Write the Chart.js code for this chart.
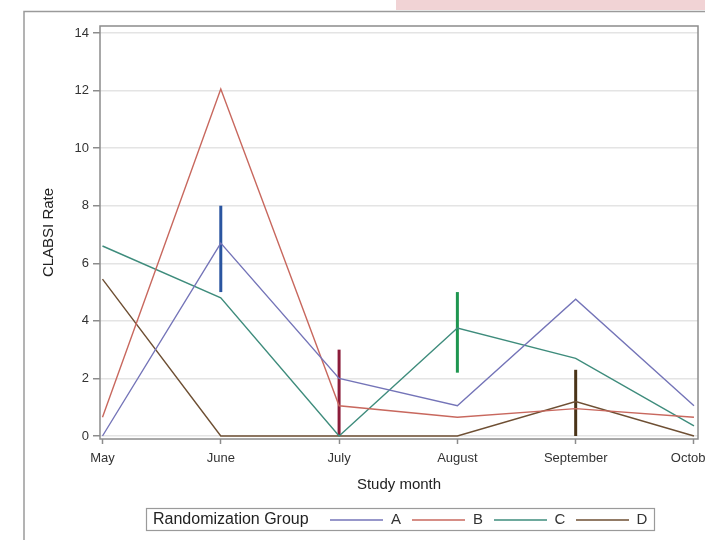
<!DOCTYPE html>
<html>
<head>
<meta charset="utf-8">
<script src="https://cdn.jsdelivr.net/npm/chart.js@4/dist/chart.umd.min.js"></script>
<style>
  html, body { margin: 0; padding: 0; background: #fff; }
  canvas { display: block; }
</style>
</head>
<body>
<canvas id="rateChart" width="705" height="540"></canvas>
<script>
const months = ['May', 'June', 'July', 'August', 'September', 'October'];
const yTicks = [0, 2, 4, 6, 8, 10, 12, 14];

const groupNames = ['A', 'B', 'C', 'D'];
const groupA = [0, 6.7, 2.0, 1.05, 4.75, 1.05];
const groupB = [0.65, 12.05, 1.05, 0.65, 0.95, 0.65];
const groupC = [6.6, 4.8, 0, 3.75, 2.7, 0.35];
const groupD = [5.45, 0, 0, 0, 1.2, 0];
const groupColors = ['#7474b8', '#c8685e', '#3e8c7c', '#6e4f33'];

// vertical range bars per month
const barMonth = [1, 2, 3, 4];
const barLow = [5.0, 0, 2.2, 0];
const barHigh = [8.0, 3.0, 5.0, 2.3];
const barColors = ['#2a55a0', '#8b1c3a', '#1e9650', '#4a3418'];

const toPoints = arr => arr.map((v, i) => ({ x: i, y: v }));

const datasets = [groupA, groupB, groupC, groupD].map((vals, i) => ({
    label: groupNames[i],
    data: toPoints(vals),
    borderColor: groupColors[i],
    borderWidth: 1.4,
    pointRadius: 0,
    tension: 0
}));

barMonth.forEach((m, i) => {
    datasets.push({
        label: 'bar' + i,
        data: [{ x: m, y: barLow[i] }, { x: m, y: barHigh[i] }],
        borderColor: barColors[i],
        borderWidth: 3,
        pointRadius: 0
    });
});

const framePlugin = {
    id: 'frame',
    beforeDraw(chart) {
        const c = chart.ctx;
        c.save();
        c.fillStyle = '#fff';
        c.fillRect(0, 0, chart.width, chart.height);
        c.fillStyle = '#f1d3d5';
        c.fillRect(396, 0, 309, 10);
        c.strokeStyle = '#9a9a9a';
        c.lineWidth = 1.5;
        c.strokeRect(24, 11.5, 720, 600);
        c.restore();
    },
    afterDraw(chart) {
        const c = chart.ctx;
        const a = chart.chartArea;
        c.save();
        c.strokeStyle = '#8c8c8c';
        c.lineWidth = 1.5;
        c.strokeRect(a.left, a.top, a.right - a.left, a.bottom - a.top);

        // legend
        c.strokeStyle = '#9a9a9a';
        c.lineWidth = 1.2;
        c.strokeRect(146.5, 508.5, 508, 22);
        c.fillStyle = '#222';
        c.font = '16px "Liberation Sans", Arial, sans-serif';
        c.textBaseline = 'middle';
        c.textAlign = 'left';
        c.fillText('Randomization Group', 153, 520);
        c.font = '15px "Liberation Sans", Arial, sans-serif';
        c.textAlign = 'center';
        groupNames.forEach((name, i) => {
            const x0 = 330 + 82 * i;
            c.strokeStyle = groupColors[i];
            c.lineWidth = 1.5;
            c.beginPath();
            c.moveTo(x0, 520);
            c.lineTo(x0 + 53, 520);
            c.stroke();
            c.fillStyle = '#333';
            c.fillText(name, x0 + 66, 520);
        });
        c.restore();
    }
};

const ctx = document.getElementById('rateChart').getContext('2d');
const rateChart = new Chart(ctx, {
    type: 'line',
    data: { datasets: datasets },
    plugins: [framePlugin],
    options: {
        responsive: false,
        animation: false,
        layout: {
            padding: { left: 24, top: 26, right: 7, bottom: 41 }
        },
        plugins: {
            legend: { display: false },
            tooltip: { enabled: false }
        },
        scales: {
            x: {
                type: 'linear',
                min: -0.021,
                max: 5.034,
                afterBuildTicks: scale => {
                    scale.ticks = months.map((m, i) => ({ value: i }));
                },
                afterFit: scale => {
                    scale.height = 60;
                    scale.paddingLeft = 0;
                    scale.paddingRight = 0;
                },
                border: { display: false },
                grid: {
                    drawOnChartArea: false,
                    drawTicks: true,
                    tickLength: 5,
                    tickColor: '#8c8c8c',
                    tickWidth: 1.5
                },
                ticks: {
                    autoSkip: false,
                    maxRotation: 0,
                    padding: 7,
                    color: '#333',
                    font: { family: '"Liberation Sans", Arial, sans-serif', size: 13 },
                    callback: v => months[v]
                },
                title: {
                    display: true,
                    text: 'Study month',
                    color: '#222',
                    font: { family: '"Liberation Sans", Arial, sans-serif', size: 15 },
                    padding: { top: 0, bottom: 5 }
                }
            },
            y: {
                type: 'linear',
                min: -0.104,
                max: 14.243,
                afterBuildTicks: scale => {
                    scale.ticks = yTicks.map(v => ({ value: v }));
                },
                afterFit: scale => {
                    scale.width = 76;
                    scale.paddingTop = 0;
                    scale.paddingBottom = 0;
                },
                border: { display: false },
                grid: {
                    color: '#e4e4e4',
                    lineWidth: 1.5,
                    drawTicks: true,
                    tickLength: 7,
                    tickColor: '#8c8c8c',
                    tickWidth: 1.5
                },
                ticks: {
                    padding: 4,
                    color: '#333',
                    font: { family: '"Liberation Sans", Arial, sans-serif', size: 13 }
                },
                title: {
                    display: true,
                    text: 'CLABSI Rate',
                    color: '#222',
                    font: { family: '"Liberation Sans", Arial, sans-serif', size: 15 },
                    padding: { top: 16, bottom: 0 }
                }
            }
        }
    }
});
</script>
</body>
</html>
